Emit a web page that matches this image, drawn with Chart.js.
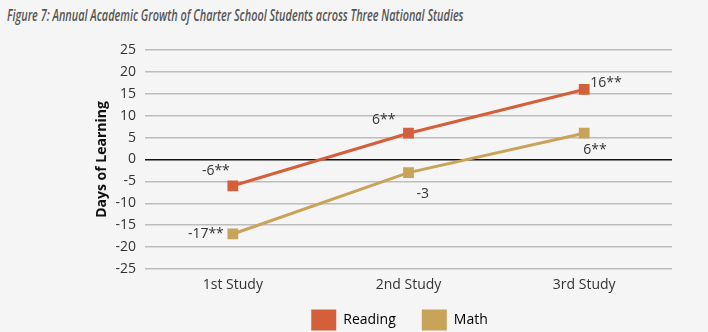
<!DOCTYPE html>
<html>
<head>
<meta charset="utf-8">
<script src="https://cdn.jsdelivr.net/npm/chart.js@4"></script>
<style>
  html, body { margin: 0; padding: 0; background: #f5f5f5; }
  #wrap { position: relative; width: 708px; height: 332px; }
  #title {
    position: absolute; left: 7px; top: 4px; white-space: nowrap;
    font: italic 600 16px "Open Sans", sans-serif; color: #555;
    transform: scaleX(0.68); transform-origin: left center;
  }
  canvas { position: absolute; left: 0; top: 0; }
</style>
</head>
<body>
<div id="wrap">
  <div id="title">Figure 7: Annual Academic Growth of Charter School Students across Three National Studies</div>
  <canvas id="growthChart" width="708" height="332"></canvas>
</div>
<script>
const studies = ['1st Study', '2nd Study', '3rd Study'];
const reading = [-6, 6, 16];
const math = [-17, -3, 6];
const readingSig = ['**', '**', '**'];
const mathSig = ['**', '', '**'];
const yTicks = [25, 20, 15, 10, 5, 0, -5, -10, -15, -20, -25];

const RED = '#d4603b';
const GOLD = '#c9a35a';
const FONT = '"Open Sans", sans-serif';

// where each value label sits relative to its point
const labelPlace = [
  [{ dx: -3, dy: -15, align: 'right' }, { dx: -13, dy: -13, align: 'right' }, { dx: 6, dy: -6, align: 'left' }],
  [{ dx: -9, dy: 0, align: 'right' }, { dx: 8, dy: 21, align: 'left' }, { dx: -1, dy: 17, align: 'left' }],
];

const valueLabels = {
  id: 'valueLabels',
  afterDatasetsDraw(chart) {
    const ctx = chart.ctx;
    ctx.save();
    ctx.font = '14px ' + FONT;
    ctx.fillStyle = '#333';
    ctx.textBaseline = 'middle';
    chart.data.datasets.forEach((ds, di) => {
      chart.getDatasetMeta(di).data.forEach((pt, i) => {
        const p = labelPlace[di][i];
        ctx.textAlign = p.align;
        ctx.fillText(ds.data[i] + ds.sig[i], pt.x + p.dx, pt.y + p.dy);
      });
    });
    ctx.restore();
  }
};

// the x axis is squeezed so the legend sits close under it; let its labels
// spill over, and nudge the legend a little left of centre
const layoutTweaks = {
  id: 'layoutTweaks',
  afterLayout(chart) {
    chart.scales.x.bottom = chart.scales.x.top + 30;
    chart.legend.left -= 18;
  }
};

new Chart(document.getElementById('growthChart'), {
  type: 'line',
  data: {
    labels: studies,
    datasets: [
      {
        label: 'Reading', data: reading, sig: readingSig,
        borderColor: RED, backgroundColor: RED, borderWidth: 3,
        pointStyle: 'rect', pointRadius: 5.5, pointHoverRadius: 5.5, tension: 0,
      },
      {
        label: 'Math', data: math, sig: mathSig,
        borderColor: GOLD, backgroundColor: GOLD, borderWidth: 3,
        pointStyle: 'rect', pointRadius: 5.5, pointHoverRadius: 5.5, tension: 0,
      },
    ],
  },
  options: {
    responsive: false, animation: false,
    layout: { padding: { top: 50, right: 36, left: 90, bottom: -8.5 } },
    plugins: {
      tooltip: { enabled: false },
      legend: {
        position: 'bottom', fullSize: false,
        labels: {
          boxWidth: 25, boxHeight: 21, padding: 26,
          color: '#333', font: { family: FONT, size: 14 },
          generateLabels: chart => chart.data.datasets.map((ds, i) => ({
            text: ds.label, fillStyle: ds.borderColor, strokeStyle: ds.borderColor,
            lineWidth: 0, datasetIndex: i, hidden: false,
          })),
        },
      },
    },
    scales: {
      x: {
        offset: true,
        afterFit: s => { s.height = 14.5; },
        grid: { display: false },
        border: { display: false },
        ticks: { color: '#333', padding: 0, font: { family: FONT, size: 14 } },
      },
      y: {
        min: -25, max: 25,
        afterFit: s => { s.width = 55; },
        afterBuildTicks: s => { s.ticks = yTicks.map(v => ({ value: v })); },
        border: { display: false },
        grid: {
          drawTicks: false, lineWidth: 1.5,
          color: c => c.tick.value === 0 ? '#111' : '#bdbdbd',
        },
        ticks: { color: '#333', padding: 9, font: { family: FONT, size: 14 } },
        title: {
          display: true, text: 'Days of Learning', color: '#111', padding: 4,
          font: { family: FONT, size: 14, weight: 'bold' },
        },
      },
    },
  },
  plugins: [valueLabels, layoutTweaks],
});
</script>
</body>
</html>
